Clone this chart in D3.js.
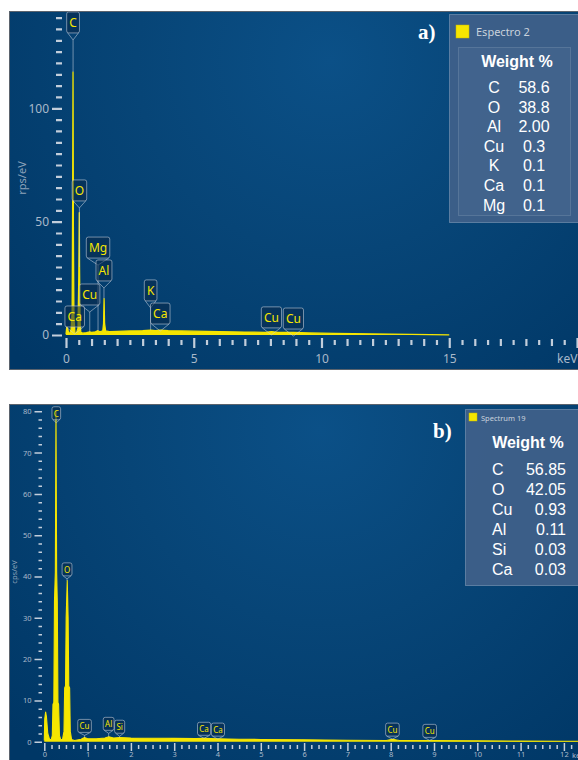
<!DOCTYPE html>
<html>
<head>
<meta charset="utf-8">
<script src="https://cdn.jsdelivr.net/npm/d3@7"></script>
<style>
  html, body { margin: 0; padding: 0; background: #ffffff; }
  svg { display: block; }
</style>
</head>
<body>
<svg id="chart" width="578" height="760"></svg>
<script>
// ---------- Spectrum a) : Espectro 2 (rps/eV vs keV) ----------
const energyA = [0, 0.03, 0.06, 0.1, 0.14, 0.2, 0.24, 0.26, 0.275, 0.29, 0.31, 0.35, 0.4, 0.47, 0.5, 0.52, 0.53, 0.55, 0.58,
  0.65, 0.8, 0.93, 1.0, 1.15, 1.25, 1.32, 1.44, 1.47, 1.49, 1.51, 1.55, 1.7, 2.0, 2.5, 3.0, 3.31, 3.5, 3.69, 4.0,
  5.0, 6.0, 7.0, 7.8, 8.04, 8.3, 8.9, 9.5, 10.5, 12, 13.5, 15];
const countsA = [0.3, 3.5, 3, 1.0, 0.5, 2.5, 10, 60, 116, 45, 8, 1.0, 0.6, 3, 25, 54, 30, 6, 1.2,
  0.8, 1.0, 1.4, 1.2, 1.4, 1.9, 1.4, 1.8, 5, 16, 5, 1.8, 1.5, 1.6, 1.8, 1.9, 2.1, 1.9, 2.1, 1.9,
  1.7, 1.5, 1.3, 1.2, 1.5, 1.1, 1.1, 0.9, 0.7, 0.45, 0.25, 0.05];

const peakLabelsA   = ["C", "O", "Mg", "Al", "Cu", "Ca", "K", "Ca", "Cu", "Cu"];
const peakEnergiesA = [0.277, 0.525, 1.254, 1.486, 0.93, 0.341, 3.312, 3.69, 8.04, 8.9];
const labelLevelsA  = [142.5, 68.4, 43.2, 33.1, 22.5, 12.8, 24.3, 14.1, 12.4, 11.9];

const yMajorA = [0, 50, 100];
const xLabelA = [0, 5, 10, 15];

const legendTitleA    = "Espectro 2";
const legendElementsA = ["C", "O", "Al", "Cu", "K", "Ca", "Mg"];
const legendWeightsA  = ["58.6", "38.8", "2.00", "0.3", "0.1", "0.1", "0.1"];

// ---------- Spectrum b) : Spectrum 19 (cps/eV vs keV) ----------
const energyB = [0, 0.01, 0.03, 0.05, 0.08, 0.12, 0.16, 0.185, 0.2, 0.22, 0.235, 0.255, 0.27, 0.285, 0.3, 0.315, 0.33,
  0.35, 0.38, 0.42, 0.455, 0.47, 0.49, 0.505, 0.53, 0.55, 0.565, 0.585, 0.6, 0.63, 0.7, 0.85, 0.93, 1.0, 1.2, 1.4,
  1.49, 1.6, 1.74, 2.0, 2.5, 3.0, 3.5, 3.69, 4.0, 4.5, 5.0, 6.0, 7.0, 7.9, 8.04, 8.2, 9.0, 10.0, 11.0, 12.0, 12.4];
const countsB = [0.3, 5.5, 7.2, 6, 2, 0.6, 0.5, 1.5, 9, 9.5, 34, 41, 80, 41, 34, 9.5, 9,
  1.5, 0.5, 0.5, 2.5, 13, 13.5, 30, 39, 30, 13.5, 13, 2.5, 0.5, 0.3, 0.6, 1.0, 0.7, 0.7, 0.9,
  1.2, 0.9, 1.0, 0.9, 0.85, 0.8, 0.75, 0.8, 0.7, 0.6, 0.55, 0.45, 0.35, 0.3, 0.6, 0.3, 0.25, 0.2, 0.15, 0.1, 0.1];

const peakLabelsB   = ["C", "O", "Cu", "Al", "Si", "Ca", "Ca", "Cu", "Cu"];
const peakEnergiesB = [0.277, 0.525, 0.93, 1.486, 1.74, 3.69, 4.01, 8.04, 8.9];
const labelLevelsB  = [81.1, 43.3, 5.4, 5.9, 5.2, 4.7, 4.5, 4.5, 4.2];

const yMajorB = [0, 10, 20, 30, 40, 50, 60, 70, 80];
const xLabelB = [0, 1, 2, 3, 4, 5, 6, 7, 8, 9, 10, 11, 12];

const legendTitleB    = "Spectrum 19";
const legendElementsB = ["C", "O", "Cu", "Al", "Si", "Ca"];
const legendWeightsB  = ["56.85", "42.05", "0.93", "0.11", "0.03", "0.03"];

// ---------- shared styling ----------
const YELLOW = "#f6e600";
const TICK = "#c3cedb";
const TICK_TEXT = "#a9b9ca";
const UI_FONT = "'Noto Sans', 'Open Sans', sans-serif";
const LEGEND_FONT = "'Liberation Sans', Arial, sans-serif";

const svg = d3.select("#chart");
const defs = svg.append("defs");

function drawPanel(cfg) {
  const root = svg.append("g");

  // panel background with a soft radial glow
  const gid = "bg-" + cfg.id;
  const grad = defs.append("radialGradient")
    .attr("id", gid).attr("gradientUnits", "userSpaceOnUse")
    .attr("cx", cfg.glow[0]).attr("cy", cfg.glow[1]).attr("r", cfg.glow[2]);
  grad.append("stop").attr("offset", 0).attr("stop-color", "#0b5087");
  grad.append("stop").attr("offset", 0.45).attr("stop-color", "#074577");
  grad.append("stop").attr("offset", 1).attr("stop-color", "#003766");

  const cid = "clip-" + cfg.id;
  defs.append("clipPath").attr("id", cid)
    .append("rect").attr("x", cfg.frame.x).attr("y", cfg.frame.y)
    .attr("width", cfg.frame.w).attr("height", cfg.frame.h);

  root.append("rect")
    .attr("x", cfg.frame.x).attr("y", cfg.frame.y)
    .attr("width", cfg.frame.w).attr("height", cfg.frame.h)
    .attr("fill", `url(#${gid})`)
    .attr("stroke", "#5b636d").attr("stroke-width", 1);

  const g = root.append("g").attr("clip-path", `url(#${cid})`);

  const x = d3.scaleLinear().domain(cfg.xDomain).range(cfg.xRange);
  const y = d3.scaleLinear().domain(cfg.yDomain).range(cfg.yRange);

  // spectrum trace
  const pts = cfg.energy.map((e, i) => [e, cfg.counts[i]]);
  const area = d3.area().x(d => x(d[0])).y0(y(0)).y1(d => y(d[1]));
  const line = d3.line().x(d => x(d[0])).y(d => y(d[1]));
  g.append("path").datum(pts).attr("d", area).attr("fill", YELLOW);
  g.append("path").datum(pts).attr("d", line)
    .attr("fill", "none").attr("stroke", YELLOW).attr("stroke-width", cfg.lineWidth)
    .attr("stroke-linejoin", "round");

  // element callouts
  const lab = g.append("g").attr("font-family", UI_FONT).attr("font-size", cfg.labelFont);
  cfg.peakLabels.forEach((name, i) => {
    const e = cfg.peakEnergies[i];
    const cx = x(e);
    const top = y(cfg.labelLevels[i]);
    const box = lab.append("g");
    const t = box.append("text").text(name)
      .attr("x", cx).attr("y", top + cfg.boxH / 2)
      .attr("text-anchor", "middle").attr("dominant-baseline", "central")
      .attr("fill", YELLOW);
    const w = t.node().getComputedTextLength() + cfg.boxPad * 2;
    const bottom = top + cfg.boxH;
    const tip = bottom + cfg.tail;
    // height of spectrum at the peak energy
    const idx = d3.bisector(d => d[0]).center(pts, e);
    const peakY = y(pts[idx][1]);
    if (peakY > tip) {
      box.insert("line", "text")
        .attr("x1", cx).attr("x2", cx).attr("y1", tip).attr("y2", peakY)
        .attr("stroke", "rgba(200,210,222,0.55)").attr("stroke-width", 1);
    }
    box.insert("path", "text")
      .attr("d", `M${cx - w / 2 + 1},${bottom} L${cx},${tip} L${cx + w / 2 - 1},${bottom}`)
      .attr("fill", "none").attr("stroke", "rgba(200,210,222,0.55)").attr("stroke-width", 1);
    box.insert("rect", "text")
      .attr("x", cx - w / 2).attr("y", top).attr("width", w).attr("height", cfg.boxH)
      .attr("rx", 2)
      .attr("fill", "rgba(10,40,72,0.55)")
      .attr("stroke", "rgba(190,200,214,0.6)").attr("stroke-width", 1);
  });

  // axes
  const styleAxis = sel => {
    sel.select(".domain").remove();
    sel.selectAll(".tick line").attr("stroke", TICK).attr("stroke-width", cfg.tickWidth);
    sel.selectAll(".tick text").attr("fill", TICK_TEXT)
      .attr("font-family", UI_FONT).attr("font-size", cfg.tickFont);
  };

  const yMinor = d3.range(cfg.yDomain[0], cfg.yDomain[1] + 0.001, cfg.yMinorStep)
    .filter(v => !cfg.yMajor.includes(v));
  g.append("g").attr("transform", `translate(${cfg.yAxisX},0)`)
    .call(d3.axisLeft(y).tickValues(yMinor).tickSize(cfg.yMinorLen).tickFormat(""))
    .call(styleAxis);
  g.append("g").attr("transform", `translate(${cfg.yAxisX},0)`)
    .call(d3.axisLeft(y).tickValues(cfg.yMajor).tickSize(cfg.yMajorLen).tickPadding(3).tickFormat(d3.format("d")))
    .call(styleAxis);

  const xMinor = d3.range(0, Math.round((cfg.xDomain[1] + 0.5) / cfg.xMinorStep))
    .map(i => i * cfg.xMinorStep)
    .filter(v => Math.abs(v - Math.round(v / cfg.xMajorStep) * cfg.xMajorStep) > 1e-6);
  const xMid = xMinor.filter(v => cfg.xMidStep && Math.abs(v - Math.round(v)) < 1e-6);
  const xSmall = xMinor.filter(v => !xMid.includes(v));
  g.append("g").attr("transform", `translate(0,${cfg.xAxisY + cfg.xSmallOffset})`)
    .call(d3.axisBottom(x).tickValues(xSmall).tickSize(cfg.xSmallLen).tickFormat(""))
    .call(styleAxis);
  if (xMid.length) {
    g.append("g").attr("transform", `translate(0,${cfg.xAxisY + 1})`)
      .call(d3.axisBottom(x).tickValues(xMid).tickSize(cfg.xMidLen).tickFormat(""))
      .call(styleAxis);
  }
  const xMajorVals = d3.range(0, cfg.xDomain[1] + 0.001, cfg.xMajorStep);
  g.append("g").attr("transform", `translate(0,${cfg.xAxisY})`)
    .call(d3.axisBottom(x).tickValues(xMajorVals).tickSize(cfg.xMajorLen).tickPadding(cfg.xPad)
      .tickFormat(d => cfg.xLabels.includes(d) ? d3.format("d")(d) : ""))
    .call(styleAxis);

  // unit label at the end of the energy axis
  g.append("text").text("keV")
    .attr("x", cfg.kevX).attr("y", cfg.kevY)
    .attr("fill", TICK_TEXT).attr("font-family", UI_FONT).attr("font-size", cfg.tickFont);

  // y axis title
  g.append("text").text(cfg.yTitle)
    .attr("transform", `translate(${cfg.yTitlePos[0]},${cfg.yTitlePos[1]}) rotate(-90)`)
    .attr("text-anchor", "middle")
    .attr("fill", "#8ea3ba").attr("font-family", UI_FONT).attr("font-size", cfg.yTitleFont);

  // panel tag a) / b)
  g.append("text").text(cfg.tag)
    .attr("x", cfg.tagPos[0]).attr("y", cfg.tagPos[1])
    .attr("fill", "#ffffff").attr("font-family", "'Liberation Serif', 'Times New Roman', serif")
    .attr("font-weight", "bold").attr("font-size", 21);

  // composition legend
  const L = cfg.legend;
  const lg = g.append("g");
  lg.append("rect").attr("x", L.x).attr("y", L.y).attr("width", L.w).attr("height", L.h)
    .attr("fill", "#40618a").attr("fill-opacity", 0.92)
    .attr("stroke", "rgba(150,170,195,0.5)").attr("stroke-width", 1);
  if (L.inner) {
    lg.append("rect").attr("x", L.inner[0]).attr("y", L.inner[1]).attr("width", L.inner[2]).attr("height", L.inner[3])
      .attr("fill", "rgba(255,255,255,0.035)").attr("stroke", "rgba(160,180,205,0.25)");
  }
  lg.append("rect").attr("x", L.swatch[0]).attr("y", L.swatch[1])
    .attr("width", L.swatch[2]).attr("height", L.swatch[2])
    .attr("fill", YELLOW).attr("stroke", "#c8b800").attr("stroke-width", 0.5);
  lg.append("text").text(L.title).attr("x", L.titlePos[0]).attr("y", L.titlePos[1])
    .attr("fill", "#c9d2dc").attr("font-family", UI_FONT).attr("font-size", L.titleFont);
  lg.append("text").text("Weight %").attr("x", L.headPos[0]).attr("y", L.headPos[1])
    .attr("text-anchor", "middle").attr("fill", "#ffffff")
    .attr("font-family", LEGEND_FONT).attr("font-weight", "bold").attr("font-size", 16);
  L.elements.forEach((el, i) => {
    const yy = L.rowY0 + i * L.rowStep;
    lg.append("text").text(el).attr("x", L.elX).attr("y", yy)
      .attr("text-anchor", L.elAnchor).attr("fill", "#ffffff")
      .attr("font-family", LEGEND_FONT).attr("font-size", 16);
    lg.append("text").text(L.weights[i]).attr("x", L.valX).attr("y", yy)
      .attr("text-anchor", L.valAnchor).attr("fill", "#ffffff")
      .attr("font-family", LEGEND_FONT).attr("font-size", 16);
  });
}

// ---------- panel a ----------
drawPanel({
  id: "a",
  frame: { x: 9.5, y: 11.5, w: 580, h: 358 },
  glow: [330, 60, 430],
  energy: energyA, counts: countsA,
  xDomain: [0, 20], xRange: [66, 577],
  yDomain: [0, 140], yRange: [335, 335 - 140 * 2.267],
  lineWidth: 1.3,
  peakLabels: peakLabelsA, peakEnergies: peakEnergiesA, labelLevels: labelLevelsA,
  labelFont: 12, boxH: 21, boxPad: 2.6, tail: 7,
  tickWidth: 2.2, tickFont: 12,
  yAxisX: 62, yMajor: yMajorA, yMinorStep: 5, yMajorLen: 10, yMinorLen: 6,
  xAxisY: 338, xMajorStep: 5, xMinorStep: 0.5, xMidStep: true,
  xMajorLen: 10, xMidLen: 7, xSmallLen: 5, xSmallOffset: 2, xPad: 6,
  xLabels: xLabelA,
  kevX: 557, kevY: 363,
  yTitle: "rps/eV", yTitlePos: [26, 178], yTitleFont: 11,
  tag: "a)", tagPos: [418, 39],
  legend: {
    x: 449.5, y: 14.5, w: 140, h: 208,
    inner: [458.5, 47.5, 112, 168],
    swatch: [456, 25, 13], title: legendTitleA, titlePos: [476, 36], titleFont: 11,
    headPos: [517, 67],
    elements: legendElementsA, weights: legendWeightsA,
    rowY0: 93, rowStep: 19.6, elX: 494, elAnchor: "middle", valX: 534, valAnchor: "middle"
  }
});

// ---------- panel b ----------
drawPanel({
  id: "b",
  frame: { x: 9.5, y: 404.5, w: 580, h: 360 },
  glow: [320, 430, 430],
  energy: energyB, counts: countsB,
  xDomain: [0, 12.4], xRange: [44.3, 44.3 + 12.4 * 43.3],
  yDomain: [0, 80], yRange: [741.7, 741.7 - 80 * 4.13],
  lineWidth: 1.1,
  peakLabels: peakLabelsB, peakEnergies: peakEnergiesB, labelLevels: labelLevelsB,
  labelFont: 8, boxH: 13, boxPad: 1.8, tail: 3,
  tickWidth: 1.5, tickFont: 7.5,
  yAxisX: 42, yMajor: yMajorB, yMinorStep: 2, yMajorLen: 7.5, yMinorLen: 3.5,
  xAxisY: 743, xMajorStep: 1, xMinorStep: 1 / 6, xMidStep: false,
  xMajorLen: 8, xMidLen: 0, xSmallLen: 4, xSmallOffset: 2, xPad: 1,
  xLabels: xLabelB,
  kevX: 572, kevY: 758,
  yTitle: "cps/eV", yTitlePos: [17, 572], yTitleFont: 7.5,
  tag: "b)", tagPos: [433, 438],
  legend: {
    x: 465.5, y: 409.5, w: 125, h: 176,
    inner: null,
    swatch: [469, 413, 8], title: legendTitleB, titlePos: [481, 420.5], titleFont: 7.5,
    headPos: [528, 448],
    elements: legendElementsB, weights: legendWeightsB,
    rowY0: 475, rowStep: 20, elX: 492, elAnchor: "start", valX: 566, valAnchor: "end"
  }
});
</script>
</body>
</html>
